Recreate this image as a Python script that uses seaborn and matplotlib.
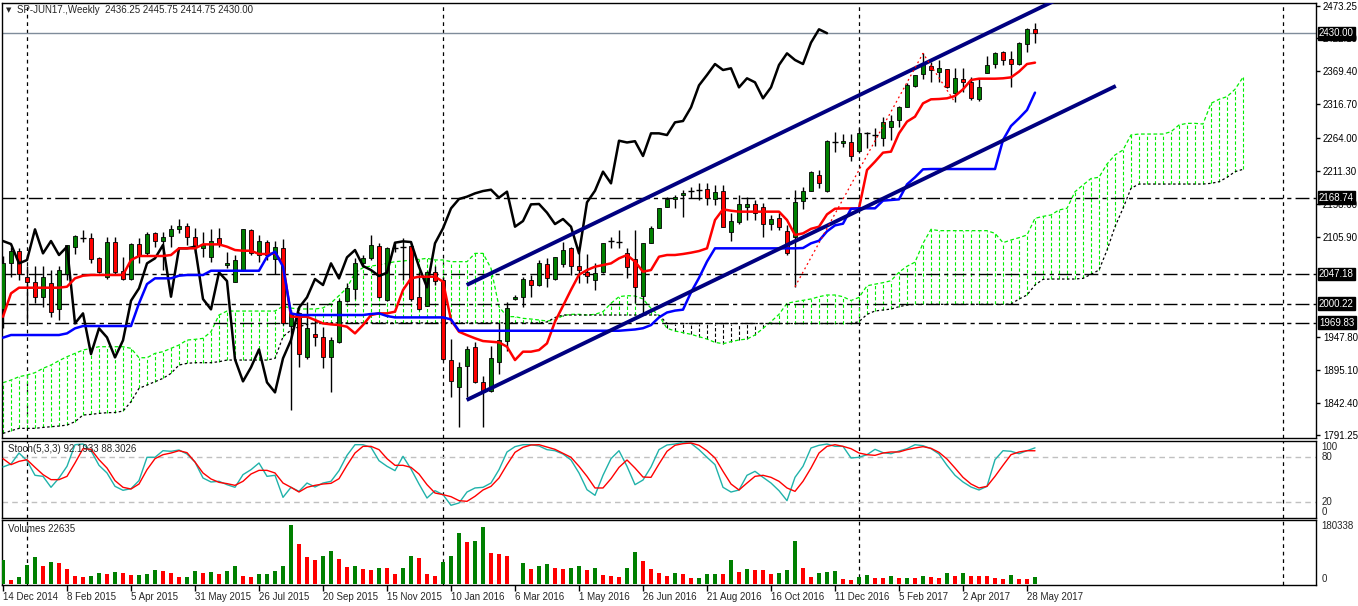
import numpy as np
import pandas as pd
import matplotlib
matplotlib.use("Agg")
import matplotlib.pyplot as plt
import seaborn as sns
from matplotlib import transforms

# ---- weekly bars, SP-JUN17 ----
start_date = "2014-12-14"

opens = [1991, 2064, 2083.7, 2042.9, 2035, 2011.1, 2032.3, 1991, 2046.6, 2090.6,
         2103.3, 2103.9, 2072.1, 2041.8, 2098, 2051.4, 2039.7, 2094.3, 2080, 2112.9,
         2100.1, 2107.6, 2118.2, 2123.5, 2105.4, 2089, 2074.7, 2103.9, 2060.9, 2035,
         2053.5, 2117.1, 2077.4, 2098, 2070.5, 2088, 1964.5, 1985.7, 1915.7, 1951.7,
         1947.5, 1914.6, 1939.6, 2004.7, 2022.8, 2064.1, 2072.1, 2091.7, 2005.8, 2089.2,
         2090.2, 2091.7, 2011.1, 1996.8, 2050.9, 2037.6, 1910.4, 1868, 1901.4, 1930.6,
         1874.9, 1861.7, 1907.8, 1941.2, 2006.9, 2010.1, 2037.6, 2029.7, 2062.5, 2039.2,
         2063, 2089, 2059.9, 2050.9, 2037.6, 2050.9, 2098, 2097.4, 2081.1, 2070.5,
         2013, 2097, 2119.8, 2154.2, 2165.9, 2172.2, 2178.6, 2180.2, 2181.8, 2166.4,
         2179.1, 2114.4, 2130.4, 2154.2, 2157.9, 2153.1, 2126.6, 2135.6, 2116, 2106.5,
         2163.7, 2179.6, 2204.6, 2179.6, 2254.9, 2254.9, 2257.6, 2242.5, 2270.2, 2267.1,
         2263.9, 2281.4, 2292, 2313.2, 2346.1, 2365.2, 2377.9, 2368.9, 2372.6, 2335.5,
         2356.7, 2352.4, 2324.9, 2367.3, 2380.5, 2399.6, 2388.5, 2381, 2412.3, 2436.25]

highs = [2075.8, 2090.6, 2088, 2059.9, 2059.9, 2059.9, 2053.5, 2059.9, 2092.7, 2109.2,
         2117.1, 2111.8, 2073.7, 2106.5, 2106.5, 2074.7, 2095.9, 2103.9, 2114.5, 2114.5,
         2114.5, 2125.1, 2134.1, 2127.7, 2119.8, 2114.5, 2118.2, 2119.8, 2082.7, 2077.4,
         2118.2, 2118.2, 2109.2, 2101.2, 2099.6, 2102.3, 1989.9, 1987.3, 2003.2, 1976.7,
         1963.4, 1947.5, 2006.9, 2032.3, 2072.1, 2077.4, 2109.2, 2095.9, 2090.6, 2098.6,
         2103.9, 2095.9, 2050.9, 2052.4, 2059.9, 2042.9, 1943.8, 1907.8, 1933.2, 1938.5,
         1885, 1933.2, 1968.7, 2003.2, 2013.8, 2042.9, 2045.6, 2069.4, 2072.1, 2073.7,
         2098.6, 2090.6, 2080, 2078.4, 2064.1, 2097, 2105.4, 2117.1, 2088, 2117.1,
         2096, 2123.5, 2151.5, 2169, 2172.8, 2180.7, 2186, 2191.3, 2191.3, 2188.6,
         2188.6, 2144.7, 2172.8, 2169, 2164.8, 2160.6, 2141, 2143.6, 2125, 2180.7,
         2186, 2211.4, 2212.5, 2260, 2273.4, 2269.7, 2270.3, 2278.7, 2273.4, 2278.7,
         2297.3, 2300, 2314.3, 2350.3, 2363.6, 2398, 2384.8, 2387.4, 2373, 2374.2,
         2374.2, 2360.9, 2358.3, 2393.8, 2400.7, 2402.3, 2402.3, 2416.6, 2437.8, 2445.75]

lows = [1960.8, 2042.9, 2037.6, 1968.7, 2000.5, 1995.2, 1979.3, 1974, 2037.6, 2079,
        2098.6, 2064.1, 2048.2, 2038.7, 2045.6, 2037.6, 2037.6, 2064.1, 2075.8, 2090.6,
        2053.5, 2090.6, 2111.8, 2093.3, 2080, 2074.7, 2066.8, 2090.6, 2056.2, 2035,
        2052.4, 2077.4, 2066.8, 2069.4, 2046.6, 1966, 1830.9, 1898.8, 1912, 1933.2,
        1897.2, 1860.1, 1937, 2003.2, 2006.9, 2057.7, 2069.4, 2009, 2004.7, 2082.7,
        2037.6, 2005, 1989.9, 1996.3, 2029.7, 1910, 1852.2, 1804.5, 1852.2, 1873.3,
        1803.4, 1860, 1887.6, 1925.3, 2005.8, 1994.1, 2011.1, 2028.1, 2026, 2037.6,
        2057.7, 2045.6, 2032.3, 2033.4, 2021.7, 2049.3, 2088, 2088, 2040.2, 2000.5,
        1984.6, 2097, 2119.8, 2154.2, 2151.5, 2138.3, 2167.5, 2164.8, 2156.8, 2156.8,
        2121.3, 2100.1, 2126.6, 2133, 2133, 2106.5, 2117.1, 2117.1, 2077.4, 2027,
        2150, 2179.6, 2183.4, 2178, 2241.6, 2249.6, 2227.3, 2241.7, 2247, 2250.7,
        2251.2, 2260.2, 2280.3, 2312.1, 2343.9, 2356.7, 2353, 2353, 2342.3, 2320,
        2337.1, 2323.8, 2322.8, 2366.2, 2374.2, 2379.5, 2343.9, 2379.5, 2400.7, 2414.75]

closes = [2064, 2083.7, 2046.6, 2033.9, 2011.1, 2041.8, 1987.3, 2053.5, 2092.7, 2107.6,
          2104.4, 2070.5, 2050.9, 2098, 2050.9, 2038.7, 2094.3, 2075.8, 2110.7, 2100.1,
          2106.5, 2118.2, 2123.5, 2106.5, 2090.6, 2093.3, 2099.6, 2094.8, 2064.1, 2069.4,
          2118.2, 2080, 2099.6, 2077.4, 2090.6, 1968.7, 1984.6, 1920, 1960.8, 1946.4,
          1914.6, 1941.7, 2004.7, 2024.4, 2064.1, 2072.1, 2093.3, 2011.1, 2088, 2088,
          2090.6, 2007.4, 1991, 2049.8, 2036, 1911.5, 1876.5, 1898.8, 1927.4, 1874.9,
          1859, 1913.1, 1942.2, 1993.6, 2010.1, 2039.2, 2029.7, 2064.1, 2040.2, 2073.7,
          2085.3, 2059.9, 2053.5, 2044, 2049.3, 2097, 2099.1, 2098, 2058.8, 2026,
          2096, 2119.8, 2151.5, 2166.4, 2170.1, 2175.4, 2179.1, 2181.2, 2168.5, 2178.1,
          2122.4, 2131.4, 2157.9, 2158.5, 2144.7, 2126.6, 2134.6, 2122.4, 2080, 2161.1,
          2179.6, 2209.9, 2191.3, 2259.1, 2256.3, 2258.3, 2234.8, 2270.8, 2270.8, 2268.1,
          2288.3, 2290.4, 2312.1, 2347.1, 2363.6, 2381, 2371.5, 2374.2, 2343.9, 2358.3,
          2351.9, 2326.5, 2343.9, 2379.5, 2398, 2387.4, 2381, 2415, 2436.2, 2430]

# Ichimoku lines as drawn
tenkan = [1979.3, 2016.4, 2025.4, 2025.4, 2025.4, 2025.4, 2025.4, 2025.4, 2027, 2040.3,
          2044.5, 2045.6, 2045.6, 2045.6, 2045.6, 2045.6, 2069.4, 2075.8, 2075.8, 2075.8,
          2075.8, 2077.4, 2088, 2088, 2088, 2094.3, 2094.3, 2094.3, 2090.6, 2085.3,
          2084.2, 2084.2, 2079, 2079, 2080, 2064, 1979.3, 1979.3, 1979.3, 1974,
          1968.7, 1967.1, 1966.1, 1963.4, 1952.8, 1966.1, 1982, 1984.6, 1984.6, 1987.3,
          2021.7, 2040.3, 2042.9, 2042.9, 2042.9, 2035, 1974, 1955.4, 1950, 1945,
          1940.6, 1939.6, 1938.5, 1931.6, 1910.4, 1923.7, 1923.7, 1926.3, 1936.9, 1971.4,
          1996.5, 2022, 2046, 2053.5, 2058.8, 2061.5, 2064.1, 2072.1, 2077.4, 2066.8,
          2050.9, 2053.5, 2074.7, 2077.4, 2077.4, 2079, 2081.1, 2083.7, 2088, 2133,
          2150, 2147.8, 2146.3, 2146.3, 2146.3, 2146.3, 2146.3, 2146.3, 2133, 2109.2,
          2111.8, 2119, 2122.4, 2142, 2151, 2151.5, 2151.5, 2151.5, 2212.5, 2225.8,
          2240.1, 2241.7, 2270.8, 2289.4, 2297.3, 2318.5, 2324.9, 2325.4, 2326.5, 2330.2,
          2340.8, 2355.6, 2357.7, 2357.7, 2357.7, 2358.3, 2359.8, 2368.9, 2381, 2383.2]

kijun = [1946, 1950.2, 1950.2, 1950.2, 1950.2, 1950.2, 1950.2, 1950.2, 1952.8, 1960.8,
         1964.5, 1964.5, 1964.5, 1964.5, 1964.5, 1964.5, 1964.5, 2000.5, 2031.2, 2040.3,
         2040.3, 2040.3, 2044.5, 2045.6, 2045.6, 2045.6, 2052.4, 2052.4, 2052.4, 2052.4,
         2052.4, 2052.4, 2052.4, 2074.7, 2082.7, 2058.8, 1984.6, 1982, 1982, 1982,
         1982, 1982, 1982, 1982, 1982, 1982, 1983.6, 1984.6, 1980.4, 1978.2,
         1978.2, 1978.2, 1978.2, 1978.2, 1978.2, 1978.2, 1975, 1957, 1957, 1957,
         1957, 1957, 1957, 1957, 1957, 1957, 1957, 1957, 1957, 1957,
         1957, 1957, 1957, 1957, 1957, 1957, 1957, 1957, 1958, 1959,
         1961, 1966, 1978.2, 1986, 1989, 1990.5, 2018, 2041, 2067, 2088,
         2088, 2088, 2088, 2088, 2088, 2088, 2088, 2088, 2088, 2088,
         2088.5, 2096, 2100.1, 2115, 2124.5, 2127.2, 2150.8, 2151.6, 2151.6, 2151.6,
         2163.8, 2164.8, 2165.9, 2189.7, 2200.9, 2213.6, 2214.1, 2214.1, 2214.1, 2214.1,
         2214.1, 2214.1, 2214.1, 2214.1, 2214.1, 2260.2, 2282.5, 2294.7, 2307.9, 2335.5]

senkou_a = [1874.4, 1878.6, 1883.9, 1886.6, 1890.3, 1897.2, 1902.5, 1909.4, 1915.7, 1921,
            1926.3, 1929, 1931.6, 1931.6, 1931.6, 1931.6, 1929, 1914.1, 1914.1, 1921,
            1923.7, 1929, 1934.3, 1942.2, 1943.3, 1944.9, 1955.4, 1982, 1988.3, 1988.3,
            1988.3, 1988.3, 1988.3, 1988.3, 1988.3, 1996, 1993, 1991.6, 1991.6, 1991.6,
            1993.2, 2001.1, 2012.8, 2025, 2049.3, 2057.2, 2059.9, 2061.5, 2064.1, 2066.8,
            2067.8, 2069.4, 2070.5, 2072.1, 2069.5, 2069.5, 2066.8, 2066.8, 2066.8, 2080,
            2080, 2056.2, 1995.3, 1979.4, 1979.4, 1976.7, 1975.6, 1974, 1972.5, 1974,
            1981, 1983.1, 1983.1, 1982, 1983.1, 1987.3, 2000.6, 2011.1, 2012.8, 2012.2,
            2007.5, 1992.6, 1981, 1960.8, 1956.6, 1953.9, 1951.3, 1947.6, 1943.8, 1938.5,
            1936.4, 1939.6, 1942.3, 1943.8, 1950.2, 1960.8, 1971.4, 1983.1, 2000.6, 2003.2,
            2005.3, 2007.5, 2011.1, 2013.8, 2013.8, 2011.1, 2005, 2010, 2028.4, 2031,
            2033.4, 2036.5, 2050, 2059.5, 2066, 2095.9, 2118.2, 2116.1, 2116.1, 2116.1,
            2116.1, 2116.1, 2116.1, 2116.1, 2111.8, 2097, 2101.2, 2104.9, 2109.2, 2135.7,
            2138.8, 2141, 2149, 2151.6, 2178, 2188.7, 2199, 2201, 2222, 2236.4,
            2244.3, 2268.2, 2269.7, 2269.7, 2269.7, 2269.7, 2273.4, 2284.1, 2286.7, 2286.7,
            2285.6, 2318.5, 2324.9, 2329.1, 2340.8, 2359.8]

senkou_b = [1793.8, 1798, 1801.8, 1801.8, 1801.8, 1803.3, 1804.4, 1805.5, 1807, 1812.4,
            1823, 1824, 1825.6, 1826.7, 1827, 1829.3, 1844.2, 1865.4, 1870.7, 1876,
            1881.3, 1889.2, 1902.5, 1905.1, 1906.2, 1906.2, 1906.2, 1907.8, 1910.4, 1910.4,
            1910.4, 1910.4, 1910.4, 1910.4, 1913.1, 1947.5, 1958.1, 1963.4, 1967, 1969.5,
            1969.5, 1969.5, 1969.5, 1969.5, 1969.5, 1969.5, 1969.5, 1969.5, 1969.5, 1969.5,
            1969.5, 1969.5, 1969.5, 1969.5, 1969.5, 1969.5, 1969.5, 1969.5, 1969.5, 1969.5,
            1969.5, 1969.5, 1969.5, 1969.5, 1969.5, 1969.5, 1969.5, 1969.5, 1971, 1978,
            1982, 1982, 1982, 1982, 1982, 1982, 1982, 1982, 1982, 1982,
            1982, 1982, 1982, 1968.5, 1968.5, 1968.5, 1968.5, 1968.5, 1968.5, 1968.5,
            1968.5, 1968.5, 1968.5, 1968.5, 1968.5, 1968.5, 1968.5, 1968.5, 1968.5, 1968.5,
            1968.5, 1968.5, 1968.5, 1968.5, 1968.5, 1968.5, 1968.5, 1971.4, 1983, 1988.4,
            1990, 1991.5, 1995.3, 1997.9, 1999, 1999, 1999, 1999, 1999, 1999,
            1999, 1999, 1999, 1999, 1999, 1999, 1999.5, 2007.4, 2013.8, 2029.7,
            2038.7, 2039.2, 2039.2, 2039.2, 2039.2, 2040.3, 2046.7, 2053.5, 2085, 2122.4,
            2151.6, 2183.4, 2190.2, 2190.2, 2190.2, 2190.2, 2190.2, 2190.2, 2190.2, 2190.2,
            2190.2, 2191.3, 2193.9, 2200.8, 2209.9, 2213.6]

# Stochastic(5,3,3)
stoch_k = [66.7, 70.7, 85.3, 75.1, 55.6, 54.2, 39.6, 52, 67.6, 96.4,
           97.3, 88.4, 68.9, 58.7, 40.9, 35.6, 37.8, 48.5, 79.6, 79.6,
           88.4, 87.6, 89.3, 84, 73.3, 52, 46.7, 47.6, 43.1, 39.6,
           56.5, 63.1, 72, 54.2, 55.6, 26.2, 39.6, 34.2, 45.3, 40,
           45.3, 47.6, 61.8, 82.2, 96.4, 96.4, 92.9, 75.1, 67.6, 61.8,
           80.9, 64, 44, 25.3, 35.1, 29.8, 15.6, 18.7, 33.3, 38.7,
           39.6, 45.3, 63.1, 86.7, 93.8, 96.4, 96.4, 94.7, 89.8, 88.4,
           84, 76, 58.7, 36.4, 28.9, 55.6, 77.8, 88.4, 67.6, 43.1,
           49.3, 66.7, 89.8, 96, 97.3, 99.6, 98.2, 89.8, 79.6, 69.8,
           39.6, 33.3, 36, 55.6, 60.9, 52.9, 45.3, 35.1, 21.8, 52.9,
           67.6, 92, 95.6, 97.3, 94.2, 94.2, 78.7, 79.6, 83.1, 90.2,
           85.8, 84.4, 88, 91.1, 96.4, 95.1, 91.1, 84, 68.9, 55.6,
           46.7, 40, 36, 40.9, 76.4, 88.4, 87.6, 84.4, 88.4, 92.1933]

stoch_d = [77.8, 69.8, 74.2, 76.4, 66.2, 56.5, 49.8, 49.8, 54.2, 72,
           91.1, 90.2, 76.4, 65.3, 48.5, 39.6, 37.3, 44, 63.1, 77.8,
           83.1, 85.3, 88.4, 85.8, 73.3, 58.7, 50.7, 46.2, 44.5, 42.2,
           47.6, 57.3, 62.2, 62.2, 58.7, 45.3, 39.6, 33.3, 39.6, 42.2,
           44, 44.9, 51.1, 68.9, 85.3, 94.2, 94.2, 89.8, 77.8, 68.9,
           68.9, 66.2, 57.3, 43.1, 32, 29.8, 27.1, 21.8, 20.9, 27.6,
           36, 40.9, 52, 69.8, 86.2, 92.9, 96, 96.4, 93.3, 90.2,
           84.9, 79.6, 67.6, 54.2, 38.7, 38.7, 51.1, 66.2, 76, 65.3,
           53.3, 52.9, 70.7, 87.6, 95.6, 97.8, 98.7, 95.6, 88.4, 78.7,
           60.9, 44, 36, 45.3, 54.2, 55.6, 52.9, 47.6, 38.7, 34.2,
           47.6, 65.3, 85.3, 94.2, 96.4, 94.2, 91.1, 85.3, 83.1, 82.2,
           85.3, 86.7, 86.7, 89.8, 92, 93.8, 91.6, 86.2, 77.3, 65.3,
           52.9, 44, 38.7, 40.9, 54.2, 68.9, 83.1, 86.7, 88.4, 88.3026]

# tick volume, thousands
volume_k = [73.4, 12.2, 21.4, 58.1, 82.5, 55, 67.3, 64.2, 45.9, 24.5,
            21.4, 24.5, 33.6, 30.6, 36.7, 33.6, 27.5, 28.5, 30.6, 42.8,
            39.7, 33.6, 21.4, 22.4, 39.7, 33.6, 36.7, 30.6, 39.7, 55,
            24.5, 21.4, 30.6, 31.6, 39.7, 55, 180.3, 122.3, 82.5, 73.4,
            85.6, 100.9, 76.4, 52, 55, 45.9, 42.8, 48.9, 47.9, 30.6,
            48.9, 85.6, 79.5, 30.6, 24.5, 67.3, 85.6, 155.9, 128.4, 131.5,
            174.2, 94.8, 91.7, 85.6, 1.5, 64.2, 45.9, 55, 61.1, 48.9,
            45.9, 48.9, 55, 42.8, 48.9, 27.5, 24.5, 21.4, 48.9, 97.8,
            70.3, 45.9, 33.6, 24.5, 33.6, 30.6, 18.3, 19.3, 30.6, 31.6,
            30.6, 73.4, 36.7, 45.9, 42.8, 41.8, 30.6, 33.6, 42.8, 131.5,
            48.9, 21.4, 33.6, 36.7, 39.7, 15.3, 12.2, 21.4, 27.5, 18.3,
            17.8, 24.5, 18.3, 19.3, 18.3, 24.5, 21.4, 18.3, 33.6, 24.5,
            33.6, 24.5, 24.0, 23.5, 18.3, 15.3, 27.5, 15.3, 14.8, 22.635]

# user objects on the chart
level_prices = [2168.74, 2047.18, 2000.22, 1969.83]
bid_price = 2430.00
channel_x = [57.96, 139.1]
channel_lower = [1846.9, 2346.1]
channel_upper = [2029.7, 2528.7]
zigzag_bars = [99, 115, 119]
# scale labels left visible beside the boxed level labels
price_ticks = [2473.25, 2422.10, 2369.40, 2316.70, 2264.00, 2211.30, 2158.60,
               2105.90, 1947.80, 1895.10, 1842.40, 1791.25]

# ---------------------------------------------------------------
sns.set_theme(style="white")
plt.rcParams["font.family"] = ["Liberation Sans", "DejaVu Sans"]
plt.rcParams["font.size"] = 7

W, H = 1358, 606
fig = plt.figure(figsize=(W / 100, H / 100), dpi=100)
fig.patch.set_facecolor("white")


def pixel_axes(x0, y0, x1, y1):
    return fig.add_axes([x0 / W, 1 - y1 / H, (x1 - x0) / W, (y1 - y0) / H])


ax = pixel_axes(2, 2.5, 1316, 437.5)
ax_st = pixel_axes(2, 440.5, 1316, 517.5)
ax_vol = pixel_axes(2, 520, 1316, 585)

n = len(closes)
idx = np.arange(n)
o, h, l, c = map(np.array, (opens, highs, lows, closes))
xlim = ((2 - 3) / 8, (1316 - 3) / 8)

all_weeks = pd.date_range(start_date, periods=166, freq="7D")
year_bars = [k for k in range(1, len(all_weeks)) if all_weeks[k].year != all_weeks[k - 1].year]

for a in (ax, ax_st, ax_vol):
    a.set_facecolor("white")
    a.set_xlim(*xlim)
    for s in a.spines.values():
        s.set_color("black")
        s.set_linewidth(1)
    for yb in year_bars:
        a.axvline(yb, color="black", lw=0.9, ls=(0, (3, 3)), zorder=1)

# price scale: 2473.25 at y=6px, 1791.25 at y=435px
ppx = (2473.25 - 1791.25) / (435 - 6)
ax.set_ylim(2473.25 - ppx * (437.5 - 6), 2473.25 - ppx * (2.5 - 6))

# cloud (kumo)
cx = np.arange(len(senkou_a))
sa, sb = np.array(senkou_a), np.array(senkou_b)
hatch_col = ["#00ee00" if a_ >= b_ else "black" for a_, b_ in zip(sa, sb)]
ax.vlines(cx, np.minimum(sa, sb), np.maximum(sa, sb), colors=hatch_col,
          lw=0.8, linestyles=(0, (3, 2)), zorder=1.5)
ax.plot(cx, sa, color="#00ee00", lw=0.9, ls=(0, (3, 2)), zorder=1.6)
ax.plot(cx, sb, color="black", lw=0.9, ls=(0, (2, 2)), zorder=1.6)

# levels
for lv in level_prices:
    ax.axhline(lv, color="black", lw=1, ls=(0, (10, 3, 3, 3)), zorder=1.7)
ax.axhline(bid_price, color="#7f8c9a", lw=1, zorder=1.7)

# candles
ax.vlines(idx, l, h, color="black", lw=1, zorder=3)
body = np.abs(c - o)
solid = body >= 1.6
up = c >= o
ax.bar(idx[solid], (c - o)[solid], bottom=o[solid], width=0.62,
       color=np.where(up[solid], "#008000", "#ff0000"),
       edgecolor="black", linewidth=0.6, zorder=3.2)
ax.hlines(c[~solid], idx[~solid] - 0.32, idx[~solid] + 0.32, color="black", lw=1, zorder=3.2)

# ichimoku lines
sns.lineplot(x=idx[:-26], y=c[26:], ax=ax, color="black", lw=1.8, zorder=4, legend=False)
sns.lineplot(x=idx, y=tenkan, ax=ax, color="#ff0000", lw=1.8, zorder=4.1, legend=False)
sns.lineplot(x=idx, y=kijun, ax=ax, color="#0000ff", lw=1.8, zorder=4.1, legend=False)

# trend channel
ax.plot(channel_x, channel_lower, color="#000080", lw=2.8, zorder=5, solid_capstyle="butt")
ax.plot(channel_x, channel_upper, color="#000080", lw=2.8, zorder=5, solid_capstyle="butt")
zz_y = [l[zigzag_bars[0]], h[zigzag_bars[1]], l[zigzag_bars[2]]]
ax.plot(zigzag_bars, zz_y, color="#ff0000", lw=0.9, ls=(0, (1.5, 2.5)), zorder=5)

ax.set_xticks([])
ax.yaxis.tick_right()
ax.set_yticks(price_ticks)
ax.set_yticklabels(["%.2f" % v for v in price_ticks])
ax.tick_params(axis="y", right=True, left=False, length=3, width=1, pad=2,
               labelsize=7, color="black", labelcolor="black")
ax.set_xlabel("")
ax.set_ylabel("")

ytr = transforms.blended_transform_factory(ax.transAxes, ax.transData)
for lv in [bid_price] + level_prices:
    ax.text(1 + 3 / 1314, lv, "%.2f" % lv, transform=ytr, color="white", fontsize=7,
            va="center", ha="left", clip_on=False, zorder=10,
            bbox=dict(boxstyle="square,pad=0.15", facecolor="black", edgecolor="black"))

# stochastic panel
ax_st.set_ylim((517 - 517.5) / 0.75, (517 - 440.5) / 0.75)
for lv in (20, 80):
    ax_st.axhline(lv, color="#c0c0c0", lw=1, ls=(0, (4, 3)), zorder=1)
sns.lineplot(x=idx, y=stoch_k, ax=ax_st, color="#20b2aa", lw=1, legend=False, zorder=3)
sns.lineplot(x=idx, y=stoch_d, ax=ax_st, color="#ff0000", lw=1, legend=False, zorder=3.1)
ax_st.set_xticks([])
ax_st.yaxis.tick_right()
ax_st.set_yticks([100, 80, 20, 0])
ax_st.set_yticklabels(["100", "80", "20", "0"])
ax_st.tick_params(axis="y", right=True, left=False, length=0, pad=4, labelsize=7)
for lab, va in zip(ax_st.get_yticklabels(), ["top", "center", "center", "bottom"]):
    lab.set_va(va)
ax_st.set_xlabel("")
ax_st.set_ylabel("")

# volume panel
vol = np.array(volume_k) * 1000
vcol = ["#008000"] + ["#008000" if vol[k] > vol[k - 1] else "#ff0000" for k in range(1, n)]
ax_vol.bar(idx, vol, width=0.62, color=vcol, linewidth=0, zorder=3)
vpx = 3057
ax_vol.set_ylim(-(585 - 584) * vpx, (584 - 520) * vpx)
ax_vol.yaxis.tick_right()
ax_vol.set_yticks([180338, 0])
ax_vol.set_yticklabels(["180338", "0"])
ax_vol.tick_params(axis="y", right=True, left=False, length=0, pad=4, labelsize=7)
ax_vol.get_yticklabels()[1].set_va("bottom")

dates = pd.date_range(start_date, periods=n, freq="7D")
xt = idx[::8]
ax_vol.set_xticks(xt)
ax_vol.set_xticklabels([f"{dates[k].day} {dates[k]:%b %Y}" for k in xt], ha="left")
ax_vol.tick_params(axis="x", bottom=True, length=4, width=1, pad=1, labelsize=7,
                   color="black")
ax_vol.set_xlabel("")
ax_vol.set_ylabel("")

# panel captions
fig.text(6 / W, 1 - 10 / H, "\u25bc", fontsize=5, va="center", ha="left",
         family=["DejaVu Sans"])
fig.text(17 / W, 1 - 10 / H, "SP-JUN17.,Weekly  2436.25 2445.75 2414.75 2430.00",
         fontsize=7, va="center", ha="left")
fig.text(8 / W, 1 - 449 / H, "Stoch(5,3,3) 92.1933 88.3026", fontsize=7, va="center", ha="left")
fig.text(8 / W, 1 - 529 / H, "Volumes 22635", fontsize=7, va="center", ha="left")

fig.savefig("out.png", dpi=100, facecolor="white")
